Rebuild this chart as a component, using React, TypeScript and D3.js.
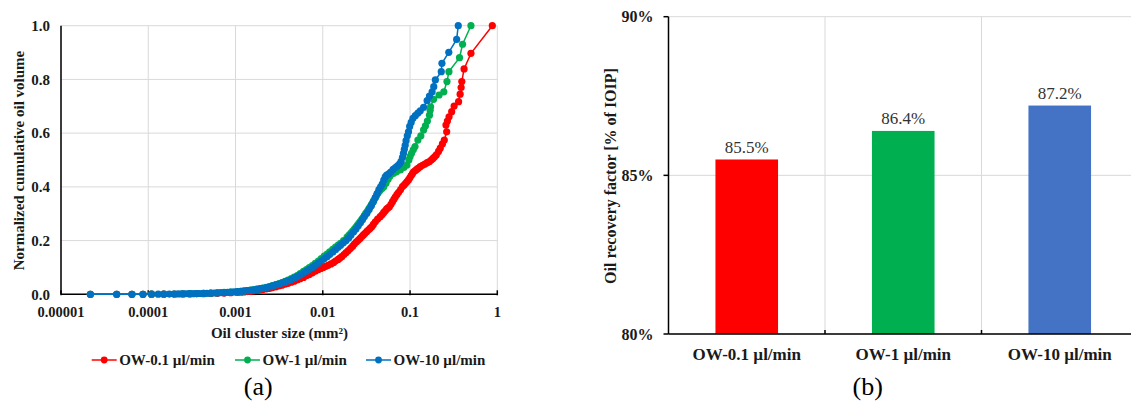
import React from 'react';
import * as d3 from 'd3';

const seriesNames = ['OW-0.1 µl/min', 'OW-1 µl/min', 'OW-10 µl/min'];
const lineColors = ['#FF0000', '#00B050', '#0070C0'];
const barColors = ['#FF0000', '#00B050', '#4472C4'];
const recovery = [0.855, 0.864, 0.872];
const recoveryLabels = ['85.5%', '86.4%', '87.2%'];

const xTicks = [1e-5, 1e-4, 1e-3, 1e-2, 1e-1, 1];
const xTickLabels = ['0.00001', '0.0001', '0.001', '0.01', '0.1', '1'];
const yTicksA = [0, 0.2, 0.4, 0.6, 0.8, 1.0];
const yTicksB = [0.8, 0.85, 0.9];
const yTickLabelsB = ['80%', '85%', '90%'];

// OW-0.1 µl/min (red)
const sizeRed = [
  2.17e-5, 4.35e-5, 6.5e-5, 8.7e-5, 1.09e-4, 1.5e-4, 2.0e-4, 2.5e-4, 3.0e-4, 3.6e-4, 4.3e-4, 5.2e-4, 6.2e-4, 7.4e-4, 8.8e-4, 1.05e-3,
  1.15e-3, 1.25e-3, 1.36e-3, 1.48e-3, 1.6e-3, 1.75e-3, 1.9e-3, 2.05e-3, 2.25e-3, 2.45e-3,
  2.65e-3, 2.9e-3, 3.15e-3, 3.4e-3, 3.7e-3, 4.0e-3, 4.35e-3, 4.7e-3, 5.1e-3, 5.5e-3,
  6.0e-3, 6.5e-3, 7.0e-3, 7.6e-3, 8.2e-3, 8.9e-3, 9.5e-3, 0.0101, 0.0108, 0.0115,
  0.0124, 0.0133, 0.014, 0.015, 0.0157, 0.0165, 0.0175, 0.0185, 0.0196, 0.0208,
  0.022, 0.023, 0.0243, 0.0256, 0.0268, 0.028, 0.0292, 0.0305, 0.032, 0.0335,
  0.035, 0.0366, 0.038, 0.04, 0.0425, 0.0455, 0.048, 0.05, 0.052, 0.054,
  0.056, 0.058, 0.0605, 0.063, 0.0655, 0.068, 0.071, 0.074, 0.078, 0.082,
  0.0855, 0.089, 0.0925, 0.096, 0.0995, 0.103, 0.1065, 0.11, 0.115, 0.12,
  0.125, 0.131, 0.139, 0.148, 0.157, 0.167, 0.175, 0.183, 0.191, 0.2,
  0.212, 0.222, 0.235, 0.247, 0.263, 0.258, 0.268, 0.28, 0.3, 0.32,
  0.36, 0.375, 0.385, 0.392, 0.416, 0.499, 0.877,
];
const volRed = [
  0, 0, 0, 0, 0.0004, 0.0006, 0.0009, 0.0012, 0.0016, 0.002, 0.0025, 0.0031, 0.0038, 0.0047, 0.0058, 0.0072,
  0.008, 0.009, 0.01, 0.0112, 0.0125, 0.014, 0.0157, 0.0175, 0.0197, 0.022,
  0.025, 0.028, 0.031, 0.034, 0.0375, 0.041, 0.045, 0.049, 0.0535, 0.058,
  0.063, 0.069, 0.074, 0.08, 0.086, 0.092, 0.096, 0.1, 0.104, 0.108,
  0.113, 0.118, 0.124, 0.13, 0.135, 0.14, 0.148, 0.155, 0.163, 0.171,
  0.179, 0.187, 0.195, 0.202, 0.208, 0.215, 0.221, 0.227, 0.234, 0.24,
  0.246, 0.252, 0.26, 0.27, 0.28, 0.289, 0.297, 0.305, 0.311, 0.318,
  0.322, 0.326, 0.335, 0.345, 0.354, 0.363, 0.372, 0.38, 0.39, 0.401,
  0.407, 0.413, 0.42, 0.426, 0.434, 0.442, 0.449, 0.456, 0.461, 0.466,
  0.47, 0.475, 0.48, 0.485, 0.49, 0.494, 0.5, 0.506, 0.512, 0.519,
  0.532, 0.544, 0.56, 0.574, 0.605, 0.63, 0.645, 0.661, 0.68, 0.701,
  0.717, 0.745, 0.77, 0.792, 0.839, 0.897, 1.0,
];

// OW-1 µl/min (green)
const sizeGreen = [
  2.17e-5, 4.35e-5, 6.5e-5, 8.7e-5, 1.09e-4, 1.5e-4, 2.0e-4, 2.5e-4, 3.0e-4, 3.6e-4,
  4.3e-4, 5.2e-4, 6.2e-4, 7.4e-4, 8.8e-4, 1.05e-3, 1.15e-3, 1.25e-3, 1.36e-3, 1.48e-3,
  1.6e-3, 1.75e-3, 1.9e-3, 2.05e-3, 2.25e-3, 2.45e-3, 2.65e-3, 2.9e-3, 3.15e-3, 3.4e-3,
  3.7e-3, 4.0e-3, 4.35e-3, 4.7e-3, 5.1e-3, 5.5e-3, 6.0e-3, 6.5e-3, 7.0e-3, 7.6e-3,
  8.2e-3, 8.9e-3, 9.6e-3, 0.0104, 0.0112, 0.012, 0.013, 0.014, 0.015, 0.016,
  0.0173, 0.019, 0.02, 0.021, 0.022, 0.023, 0.024, 0.025, 0.026, 0.027,
  0.028, 0.029, 0.03, 0.031, 0.032, 0.033, 0.034, 0.035, 0.036, 0.037,
  0.0385, 0.04, 0.0415, 0.043, 0.0445, 0.046, 0.048, 0.05, 0.053, 0.056,
  0.059, 0.0644, 0.07, 0.0775, 0.085, 0.092, 0.097, 0.1, 0.104, 0.109,
  0.114, 0.123, 0.133, 0.143, 0.15, 0.158, 0.167, 0.17, 0.172, 0.186,
  0.215, 0.244, 0.265, 0.279, 0.369, 0.4, 0.499,
];
const volGreen = [
  0, 0, 0, 0, 0.0005, 0.0008, 0.0012, 0.0017, 0.0022, 0.0028,
  0.0034, 0.0043, 0.0054, 0.0068, 0.0083, 0.0102, 0.0113, 0.0125, 0.014, 0.0155,
  0.017, 0.019, 0.021, 0.023, 0.026, 0.029, 0.032, 0.036, 0.04, 0.044,
  0.0485, 0.053, 0.058, 0.064, 0.07, 0.077, 0.085, 0.092, 0.099, 0.107,
  0.115, 0.124, 0.133, 0.142, 0.15, 0.158, 0.167, 0.176, 0.183, 0.19,
  0.2, 0.213, 0.22, 0.228, 0.235, 0.243, 0.25, 0.258, 0.265, 0.272,
  0.279, 0.286, 0.293, 0.3, 0.306, 0.313, 0.32, 0.326, 0.333, 0.34,
  0.35, 0.36, 0.369, 0.378, 0.384, 0.39, 0.395, 0.4, 0.413, 0.428,
  0.44, 0.45, 0.456, 0.463, 0.472, 0.481, 0.5, 0.513, 0.525, 0.538,
  0.55, 0.574, 0.59, 0.612, 0.627, 0.645, 0.667, 0.685, 0.698, 0.726,
  0.742, 0.754, 0.792, 0.829, 0.881, 0.931, 1.0,
];

// OW-10 µl/min (blue)
const sizeBlue = [2.17e-5, 4.35e-5, 6.5e-5, 8.7e-5, 1.09e-4, 1.3e-4, 1.52e-4, 1.74e-4, 1.96e-4, 2.2e-4, 2.4e-4, 2.6e-4, 2.8e-4, 3.0e-4, 3.3e-4, 3.6e-4, 3.9e-4, 4.3e-4, 4.7e-4, 5.2e-4, 5.7e-4, 6.2e-4, 6.8e-4, 7.4e-4, 8.1e-4, 8.8e-4, 9.6e-4, 1.05e-3, 1.15e-3, 1.25e-3, 1.36e-3, 1.48e-3, 1.6e-3, 1.75e-3, 1.9e-3, 2.05e-3, 2.25e-3, 2.45e-3, 2.65e-3, 2.9e-3, 3.15e-3, 3.4e-3, 3.7e-3, 4.0e-3, 4.35e-3, 4.7e-3, 5.1e-3, 5.5e-3, 6.0e-3, 6.5e-3, 7.0e-3, 7.6e-3, 8.2e-3, 8.9e-3, 9.6e-3, 0.0104, 0.0112, 0.012, 0.013, 0.014, 0.015, 0.016, 0.0172, 0.0185, 0.0198, 0.021, 0.0225, 0.024, 0.0255, 0.027, 0.0285, 0.03, 0.032, 0.034, 0.036, 0.038, 0.04, 0.042, 0.044, 0.046, 0.048, 0.05, 0.052, 0.054, 0.057, 0.06, 0.064, 0.068, 0.072, 0.076, 0.079, 0.082, 0.084, 0.086, 0.088, 0.09, 0.093, 0.096, 0.099, 0.103, 0.108, 0.115, 0.123, 0.131, 0.143, 0.157, 0.167, 0.179, 0.187, 0.195, 0.228, 0.232, 0.278, 0.342, 0.357];
const volBlue = [0, 0, 0, 0, 0.0005, 0.0006, 0.0008, 0.001, 0.0012, 0.0014, 0.0016, 0.0018, 0.002, 0.0022, 0.0025, 0.0028, 0.003, 0.0034, 0.0038, 0.0043, 0.0048, 0.0053, 0.006, 0.0066, 0.0073, 0.008, 0.0088, 0.0097, 0.011, 0.012, 0.0135, 0.015, 0.0165, 0.018, 0.02, 0.022, 0.025, 0.028, 0.031, 0.035, 0.038, 0.042, 0.046, 0.05, 0.055, 0.06, 0.066, 0.072, 0.079, 0.086, 0.093, 0.1, 0.108, 0.116, 0.124, 0.132, 0.14, 0.148, 0.157, 0.166, 0.175, 0.183, 0.192, 0.2, 0.21, 0.22, 0.232, 0.243, 0.255, 0.266, 0.278, 0.29, 0.302, 0.316, 0.33, 0.345, 0.36, 0.375, 0.39, 0.4, 0.41, 0.425, 0.437, 0.444, 0.448, 0.455, 0.465, 0.472, 0.478, 0.486, 0.495, 0.51, 0.525, 0.54, 0.555, 0.572, 0.59, 0.605, 0.625, 0.64, 0.655, 0.665, 0.675, 0.683, 0.696, 0.721, 0.738, 0.754, 0.773, 0.798, 0.829, 0.86, 0.901, 0.949, 1.0];

const seriesSizes = [sizeRed, sizeGreen, sizeBlue];
const seriesVols = [volRed, volGreen, volBlue];

const FONT = "'Liberation Serif', 'Times New Roman', serif";
const GRID = '#D9D9D9';
const TXT = '#1a1a1a';

export default function App() {
  React.useEffect(() => {
    document.body.style.margin = '0';
  }, []);

  // Chart (a)
  const xA = d3.scaleLog().domain([1e-5, 1]).range([61, 497.3]);
  const yA = d3.scaleLinear().domain([0, 1]).range([294.3, 25.7]);
  const line = d3
    .line<[number, number]>()
    .x((d) => xA(d[0]))
    .y((d) => yA(d[1]));

  const series = seriesSizes.map((s, i) =>
    s.map((v, j) => [v, seriesVols[i][j]] as [number, number])
  );

  // Chart (b)
  const xB = d3.scaleBand<string>().domain(seriesNames).range([668.5, 1138]).padding(0);
  const yB = d3.scaleLinear().domain([0.8, 0.9]).range([334, 16.7]);
  const barW = xB.bandwidth() * 0.4;

  const legendX = [91.7, 235, 366];

  return (
    <svg
      width={1131}
      height={403}
      style={{ position: 'absolute', left: 0, top: 0, background: '#fff' }}
      fontFamily={FONT}
    >
      <rect x={0} y={0} width={1131} height={403} fill="#fff" />
      {/* ---------- Chart (a) ---------- */}
      <g>
        {xTicks.map((t) => (
          <line key={'gx' + t} x1={xA(t)} x2={xA(t)} y1={yA(1)} y2={yA(0)} stroke={GRID} strokeWidth={1} />
        ))}
        {yTicksA.map((t) => (
          <line key={'gy' + t} x1={xA(1e-5)} x2={xA(1)} y1={yA(t)} y2={yA(t)} stroke={GRID} strokeWidth={1} />
        ))}
        <line x1={xA(1e-5)} x2={xA(1e-5)} y1={yA(1)} y2={yA(0)} stroke="#000" strokeWidth={1.5} />
        <line x1={xA(1e-5)} x2={xA(1)} y1={yA(0)} y2={yA(0)} stroke="#000" strokeWidth={1.5} />
        {xTicks.map((t) => (
          <line key={'tx' + t} x1={xA(t)} x2={xA(t)} y1={yA(0) - 4} y2={yA(0) + 1} stroke="#000" strokeWidth={1.5} />
        ))}
        {yTicksA.map((t) => (
          <text key={'ly' + t} x={50} y={yA(t)} dy="0.35em" textAnchor="end" fontSize={15} fontWeight="bold" fill={TXT}>
            {t.toFixed(1)}
          </text>
        ))}
        {xTicks.map((t, i) => (
          <text key={'lx' + t} x={xA(t)} y={317} textAnchor="middle" fontSize={14.5} fontWeight="bold" fill={TXT}>
            {xTickLabels[i]}
          </text>
        ))}
        <text x={279.5} y={337.5} textAnchor="middle" fontSize={15} fontWeight="bold" fill={TXT}>
          Oil cluster size (mm²)
        </text>
        <text
          transform={`translate(19,160.5) rotate(-90)`}
          textAnchor="middle"
          dy="0.35em"
          fontSize={15}
          fontWeight="bold"
          fill={TXT}
        >
          Normalized cumulative oil volume
        </text>
        {series.map((pts, i) => (
          <g key={'s' + i}>
            <path d={line(pts) || ''} fill="none" stroke={lineColors[i]} strokeWidth={1.5} />
            {pts.map((p, j) => (
              <circle key={j} cx={xA(p[0])} cy={yA(p[1])} r={3.6} fill={lineColors[i]} />
            ))}
          </g>
        ))}
        {seriesNames.map((n, i) => (
          <g key={'lg' + i}>
            <line x1={legendX[i]} x2={legendX[i] + 25} y1={360} y2={360} stroke={lineColors[i]} strokeWidth={1.5} />
            <circle cx={legendX[i] + 12.5} cy={360} r={3.4} fill={lineColors[i]} />
            <text x={legendX[i] + 27.5} y={360} dy="0.35em" fontSize={15} fontWeight="bold" fill={TXT}>
              {n}
            </text>
          </g>
        ))}
        <text x={258.3} y={395} textAnchor="middle" fontSize={26} fill="#000">
          (a)
        </text>
      </g>

      {/* ---------- Chart (b) ---------- */}
      <g>
        {yTicksB.map((t) => (
          <line key={'gb' + t} x1={668.5} x2={1138} y1={yB(t)} y2={yB(t)} stroke={GRID} strokeWidth={1} />
        ))}
        {seriesNames.slice(1).map((n) => (
          <line key={'gv' + n} x1={xB(n)!} x2={xB(n)!} y1={yB(0.9)} y2={yB(0.8)} stroke={GRID} strokeWidth={1} />
        ))}
        {seriesNames.map((n, i) => (
          <rect
            key={'bar' + i}
            x={xB(n)! + (xB.bandwidth() - barW) / 2}
            y={yB(recovery[i])}
            width={barW}
            height={yB(0.8) - yB(recovery[i])}
            fill={barColors[i]}
          />
        ))}
        <line x1={668.5} x2={668.5} y1={yB(0.9)} y2={yB(0.8)} stroke="#000" strokeWidth={1.5} />
        <line x1={668.5} x2={1138} y1={yB(0.8)} y2={yB(0.8)} stroke="#000" strokeWidth={1.5} />
        {yTicksB.map((t) => (
          <line key={'tb' + t} x1={663.5} x2={668.5} y1={yB(t)} y2={yB(t)} stroke="#000" strokeWidth={1.5} />
        ))}
        {seriesNames.slice(1).map((n) => (
          <line key={'tc' + n} x1={xB(n)!} x2={xB(n)!} y1={yB(0.8) - 4} y2={yB(0.8)} stroke="#000" strokeWidth={1.5} />
        ))}
        {yTicksB.map((t, i) => (
          <text key={'lb' + t} x={653.5} y={yB(t)} dy="0.35em" textAnchor="end" fontSize={16} fontWeight="bold" fill={TXT}>
            {yTickLabelsB[i]}
          </text>
        ))}
        {seriesNames.map((n, i) => (
          <text
            key={'cl' + i}
            x={xB(n)! + xB.bandwidth() / 2}
            y={360}
            textAnchor="middle"
            fontSize={17}
            fontWeight="bold"
            fill={TXT}
          >
            {n}
          </text>
        ))}
        {seriesNames.map((n, i) => (
          <text
            key={'vl' + i}
            x={xB(n)! + xB.bandwidth() / 2}
            y={yB(recovery[i]) - 6.5}
            textAnchor="middle"
            fontSize={17}
            fill="#333"
          >
            {recoveryLabels[i]}
          </text>
        ))}
        <text
          transform={`translate(610,176) rotate(-90)`}
          textAnchor="middle"
          dy="0.35em"
          fontSize={16}
          fontWeight="bold"
          fill={TXT}
        >
          Oil recovery factor [% of IOIP]
        </text>
        <text x={867.7} y={395} textAnchor="middle" fontSize={26} fill="#000">
          (b)
        </text>
      </g>
    </svg>
  );
}
